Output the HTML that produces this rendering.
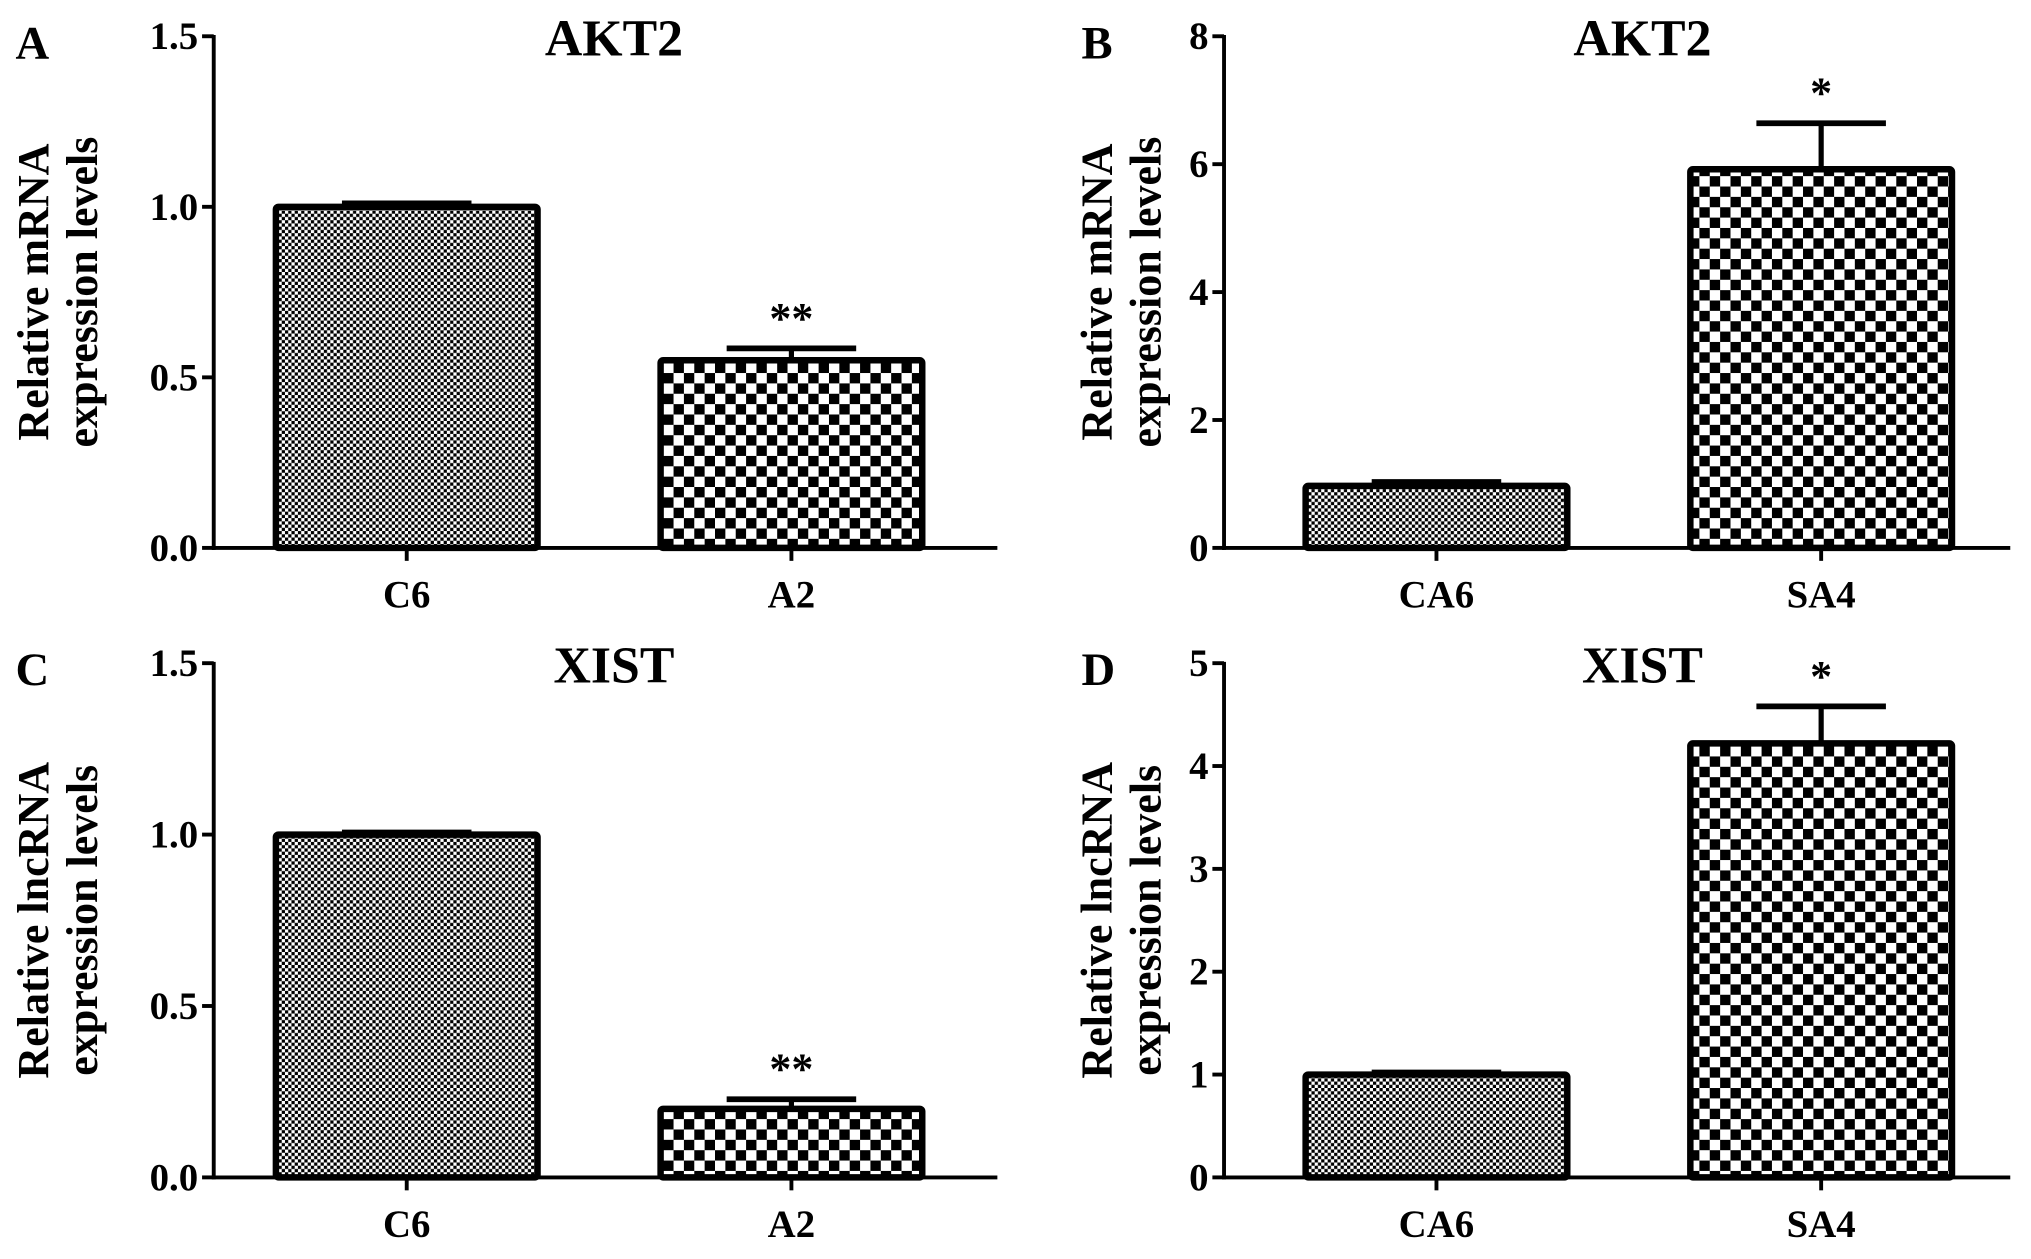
<!DOCTYPE html>
<html><head><meta charset="utf-8"><style>
html,body{margin:0;padding:0;background:#fff}
svg{display:block}
text{font-family:"Liberation Serif",serif;font-weight:bold;fill:#000}
</style></head><body>
<svg id="fig" width="2031" height="1259" viewBox="0 0 1568 972" xmlns="http://www.w3.org/2000/svg">
<defs>
<pattern id="fine" width="5" height="5" patternUnits="userSpaceOnUse"><rect width="5" height="5" fill="#fff"/><rect width="2.5" height="2.5" fill="#000"/><rect x="2.5" y="2.5" width="2.5" height="2.5" fill="#000"/></pattern>
<pattern id="coarse" width="16" height="16" patternUnits="userSpaceOnUse"><rect width="16" height="16" fill="#fff"/><rect width="8" height="8" fill="#000"/><rect x="8" y="8" width="8" height="8" fill="#000"/></pattern>
</defs>
</svg>
<script>
const panelLetters = ['A','B','C','D'];
const panelTitles = ['AKT2','AKT2','XIST','XIST'];
const yLabels1 = ['Relative mRNA','Relative mRNA','Relative lncRNA','Relative lncRNA'];
const categoriesA = ['C6','A2'];
const categoriesB = ['CA6','SA4'];
const valuesA = [1.0, 0.55];
const errorsA = [0.01, 0.035];
const valuesB = [0.97, 5.92];
const errorsB = [0.06, 0.72];
const valuesC = [1.0, 0.2];
const errorsC = [0.006, 0.028];
const valuesD = [1.0, 4.22];
const errorsD = [0.02, 0.36];
const sigA = ['', '**'];
const sigB = ['', '*'];
const sigC = ['', '**'];
const sigD = ['', '*'];
const ticksA = ['0.0','0.5','1.0','1.5'];
const ticksB = ['0','2','4','6','8'];
const ticksC = ['0.0','0.5','1.0','1.5'];
const ticksD = ['0','1','2','3','4','5'];

const NS = 'http://www.w3.org/2000/svg';
const svg = document.getElementById('fig');
function mk(tag, attrs, parent){const e=document.createElementNS(NS,tag);for(const k in attrs)e.setAttribute(k,attrs[k]);(parent||svg).appendChild(e);return e;}

const panels = [
 {ax:165, top:28, bot:423, cats:categoriesA, vals:valuesA, errs:errorsA, sig:sigA, ticks:ticksA, ymax:1.5, off:48, letterX:12, ylX:37, titleX:474, xEnd:770},
 {ax:945, top:28, bot:423, cats:categoriesB, vals:valuesB, errs:errorsB, sig:sigB, ticks:ticksB, ymax:8, off:63, letterX:835, ylX:858, titleX:1268, xEnd:1552},
 {ax:165, top:512, bot:909, cats:categoriesA, vals:valuesC, errs:errorsC, sig:sigC, ticks:ticksC, ymax:1.5, off:48, letterX:12, ylX:37, titleX:474, xEnd:770},
 {ax:945, top:512, bot:909, cats:categoriesB, vals:valuesD, errs:errorsD, sig:sigD, ticks:ticksD, ymax:5, off:63, letterX:835, ylX:858, titleX:1268, xEnd:1552}
];

panels.forEach((p,i)=>{
  const g = mk('g',{});
  
  
  const y = v => p.bot - (v/p.ymax)*(p.bot-p.top);
  const barX0 = p.ax + p.off, barW = 202, gap = 95;
  const L = mk('text',{x:p.letterX,y:p.top+17,'font-size':36},g); L.textContent=panelLetters[i];
   
  const T = mk('text',{x:p.titleX,y:p.top+15,'font-size':40,'text-anchor':'middle'},g); T.textContent=panelTitles[i];
   
  const cy=(p.top+p.bot)/2;
  const yl = mk('text',{transform:`translate(${p.ylX},${cy}) rotate(-90)`,'font-size':34,'text-anchor':'middle'},g);
   
  const t1=mk('tspan',{x:0,y:0},yl); t1.textContent=yLabels1[i];
  const t2=mk('tspan',{x:0,y:38},yl); t2.textContent='expression levels';
  p.ticks.forEach((t)=>{
    const v=parseFloat(t), yy=y(v);
    const tk=mk('line',{x1:p.ax-9,x2:p.ax,y1:yy,y2:yy,stroke:'#000','stroke-width':3},g);
     
    const tl=mk('text',{x:p.ax-12,y:yy+10,'font-size':30,'text-anchor':'end'},g); tl.textContent=t;
     
  });
  p.cats.forEach((c,j)=>{
    const x0=barX0+j*(barW+gap), cx=x0+barW/2;
    const yv=y(p.vals[j]), ye=y(p.vals[j]+p.errs[j]);
    const eb=mk('line',{x1:cx,x2:cx,y1:yv,y2:ye,stroke:'#000','stroke-width':4},g);
     
    const cap=mk('line',{x1:cx-50,x2:cx+50,y1:ye,y2:ye,stroke:'#000','stroke-width':4.5},g);
     
    const r=mk('rect',{x:x0,y:yv,width:barW,height:p.bot-yv,fill:j===0?'url(#fine)':'url(#coarse)',stroke:'#000','stroke-width':5,rx:2},g);
     
    if(p.sig[j]){const s=mk('text',{x:cx,y:ye-12,'font-size':34,'text-anchor':'middle'},g); s.textContent=p.sig[j];
       }
    const xt=mk('line',{x1:cx,x2:cx,y1:p.bot,y2:p.bot+10,stroke:'#000','stroke-width':3},g);
     
    const xl=mk('text',{x:cx,y:p.bot+46,'font-size':30,'text-anchor':'middle'},g); xl.textContent=c;
     
  });
  const ya=mk('line',{x1:p.ax,x2:p.ax,y1:p.top-1,y2:p.bot+1.5,stroke:'#000','stroke-width':3},g);
   
  const xa=mk('line',{x1:p.ax-1.5,x2:p.xEnd,y1:p.bot,y2:p.bot,stroke:'#000','stroke-width':3},g);
   
});
</script>
</body></html>
